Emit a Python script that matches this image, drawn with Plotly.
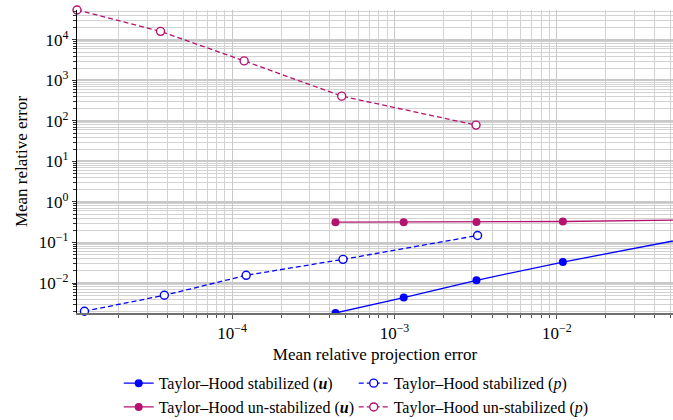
import plotly.graph_objects as go

# Data
stab_u_x = [4.33e-4, 1.14e-3, 3.20e-3, 1.09e-2, 1.0e-1]
stab_u_y = [1.82e-3, 4.37e-3, 1.17e-2, 3.29e-2, 1.80e-1]

stab_p_x = [1.23e-5, 3.82e-5, 1.22e-4, 4.82e-4, 3.25e-3]
stab_p_y = [2.01e-3, 4.98e-3, 1.55e-2, 3.84e-2, 1.49e-1]

unstab_u_x = [4.33e-4, 1.14e-3, 3.20e-3, 1.09e-2, 1.0e-1]
unstab_u_y = [0.318, 0.318, 0.320, 0.330, 0.370]

unstab_p_x = [1.107e-5, 3.62e-5, 1.185e-4, 4.73e-4, 3.18e-3]
unstab_p_y = [5.48e4, 1.63e4, 3.04e3, 410, 79]

x_tick_vals = [1e-4, 1e-3, 1e-2]
x_tick_text = ["10<sup>−4</sup>", "10<sup>−3</sup>", "10<sup>−2</sup>"]
y_tick_vals = [1e-2, 1e-1, 1e0, 1e1, 1e2, 1e3, 1e4]
y_tick_text = ["10<sup>−2</sup>", "10<sup>−1</sup>", "10<sup>0</sup>", "10<sup>1</sup>",
               "10<sup>2</sup>", "10<sup>3</sup>", "10<sup>4</sup>"]

BLUE = "#0000ff"
MAG = "#b4126e"
FONT = "Liberation Serif"
FS = 17

fig = go.Figure()
fig.add_trace(go.Scatter(x=stab_u_x, y=stab_u_y, mode="lines+markers",
    name="Taylor–Hood stabilized (<b><i>u</i></b>)",
    line=dict(color=BLUE, width=1.3), marker=dict(color=BLUE, size=8, symbol="circle"),
    cliponaxis=True))
fig.add_trace(go.Scatter(x=stab_p_x, y=stab_p_y, mode="lines+markers",
    name="Taylor–Hood stabilized (<i>p</i>)",
    line=dict(color=BLUE, width=1.3, dash="5px,3px"),
    marker=dict(color="white", size=8, symbol="circle", line=dict(color=BLUE, width=1.4)),
    cliponaxis=False))
fig.add_trace(go.Scatter(x=unstab_u_x, y=unstab_u_y, mode="lines+markers",
    name="Taylor–Hood un-stabilized (<b><i>u</i></b>)",
    line=dict(color=MAG, width=1.3), marker=dict(color=MAG, size=8, symbol="circle"),
    cliponaxis=True))
fig.add_trace(go.Scatter(x=unstab_p_x, y=unstab_p_y, mode="lines+markers",
    name="Taylor–Hood un-stabilized (<i>p</i>)",
    line=dict(color=MAG, width=1.3, dash="5px,3px"),
    marker=dict(color="white", size=8, symbol="circle", line=dict(color=MAG, width=1.4)),
    cliponaxis=False))

fig.update_layout(
    width=673, height=420,
    margin=dict(l=77, r=0, t=10, b=107, autoexpand=False),
    plot_bgcolor="white", paper_bgcolor="white",
    font=dict(family=FONT, size=FS, color="black"),
    showlegend=True,
    legend=dict(orientation="h", xref="container", yref="container",
                x=0.1764, xanchor="left", y=0.128, yanchor="top",
                entrywidth=190, font=dict(family=FONT, size=16),
                bgcolor="rgba(0,0,0,0)", itemwidth=30, tracegroupgap=0),
)
fig.update_xaxes(
    type="log", range=[-4.956, -1.284],
    title=dict(text="Mean relative projection error", font=dict(family=FONT, size=FS), standoff=6),
    tickvals=x_tick_vals, ticktext=x_tick_text, tickfont=dict(family=FONT, size=FS),
    showgrid=True, gridcolor="#c8c8c8", gridwidth=1.2,
    minor=dict(dtick="D1", showgrid=True, gridcolor="#d2d2d2", gridwidth=1,
               ticks="outside", ticklen=3, tickcolor="#555"),
    ticks="outside", ticklen=4, tickcolor="#555",
    showline=True, linecolor="#707070", linewidth=2,
    zeroline=False,
)
fig.update_yaxes(
    type="log", range=[-2.74, 4.739],
    title=dict(text="Mean relative error", font=dict(family=FONT, size=FS), standoff=6),
    tickvals=y_tick_vals, ticktext=y_tick_text, tickfont=dict(family=FONT, size=FS),
    showgrid=True, gridcolor="#c8c8c8", gridwidth=1.5,
    minor=dict(dtick="D1", showgrid=True, gridcolor="#d2d2d2", gridwidth=1,
               ticks="outside", ticklen=3, tickcolor="#333"),
    ticks="outside", ticklen=4, tickcolor="#333",
    showline=True, linecolor="black", linewidth=1.2,
    zeroline=False,
)

fig.write_html("out.html")
